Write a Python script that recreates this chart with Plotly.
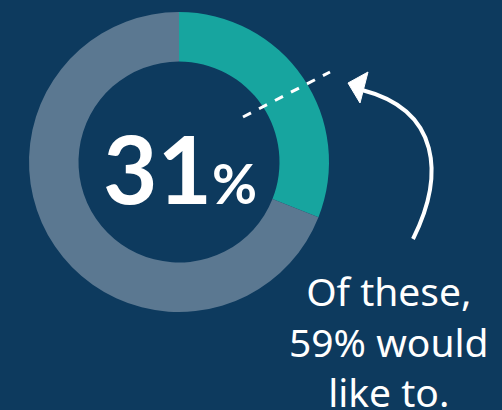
import plotly.graph_objects as go

labels = ["Yes", "No"]
values = [31, 69]
colors = ["#17a59f", "#5b7891"]
center_label = "31"
note_lines = ["Of these,", "59% would", "like to."]

W, H = 502, 410
BG = "#0d3a5e"

fig = go.Figure()
fig.add_trace(go.Pie(
    labels=labels, values=values, hole=0.67, sort=False,
    direction="clockwise", rotation=0,
    marker=dict(colors=colors, line=dict(width=0)),
    textinfo="none", hoverinfo="skip", showlegend=False,
    domain=dict(x=[29 / W, 329 / W], y=[(H - 312) / H, (H - 12) / H]),
))

fig.update_layout(
    width=W, height=H,
    margin=dict(l=0, r=0, t=0, b=0),
    paper_bgcolor=BG, plot_bgcolor=BG,
    xaxis=dict(range=[0, W], visible=False, fixedrange=True),
    yaxis=dict(range=[H, 0], visible=False, fixedrange=True),
    showlegend=False,
)

# center label
fig.add_annotation(
    x=180, y=167, xref="x", yref="y", showarrow=False,
    text=center_label + "<span style='font-size:55px'>%</span>",
    font=dict(family="Lato", size=94, color="white", weight="bold"),
    xanchor="center", yanchor="middle",
)

# note text
fig.add_annotation(
    x=389, y=341, xref="x", yref="y", showarrow=False,
    text="<br>".join(note_lines),
    font=dict(family="Noto Sans", size=39, color="white"),
    xanchor="center", yanchor="middle", align="center",
)

# dashed line
fig.add_shape(type="line", x0=243, y0=117, x1=330, y1=72, xref="x", yref="y",
              line=dict(color="white", width=3, dash="dash"))

# curved arrow
fig.add_shape(type="path", xref="x", yref="y",
              path="M 413,239 C 445,175 440,110 362,90",
              line=dict(color="white", width=4))
fig.add_shape(type="path", xref="x", yref="y",
              path="M 348,83 L 368,72 L 360,103 Z",
              fillcolor="white", line=dict(color="white", width=1))

fig.write_html("out.html")
